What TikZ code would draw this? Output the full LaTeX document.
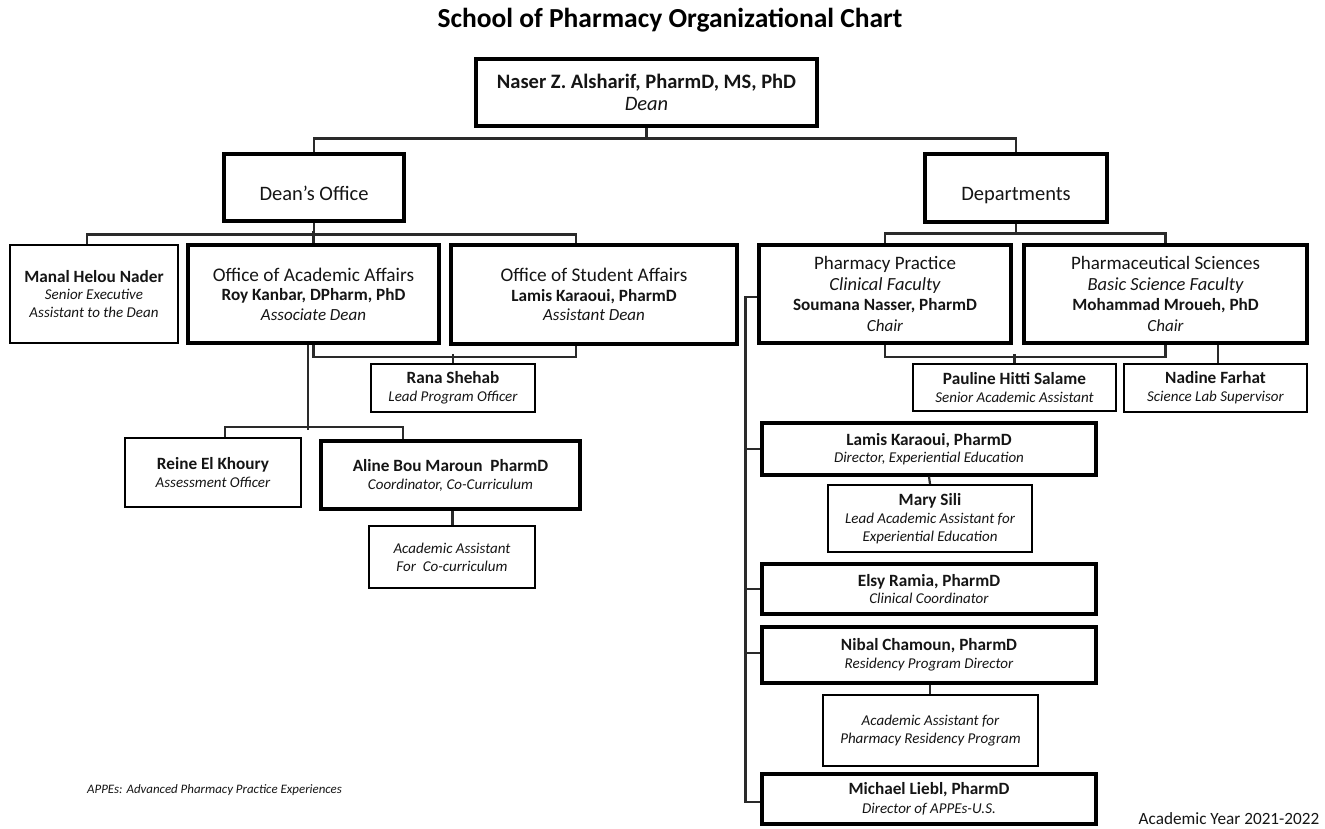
\documentclass[tikz,border=0pt]{standalone}
\usepackage{fontspec}
\setmainfont{Carlito}
\definecolor{txt}{HTML}{151515}
\definecolor{lnc}{HTML}{2A2A2A}
\newcommand\nB[1]{{\fontsize{17.2}{17.2}\selectfont\bfseries #1}}
\newcommand\nR[1]{{\fontsize{19.3}{19.3}\selectfont #1}}
\newcommand\nRs[1]{{\fontsize{19}{19}\selectfont #1}}
\newcommand\nI[1]{{\fontsize{15}{15}\selectfont\itshape #1}}
\newcommand\nIL[1]{{\fontsize{17}{17}\selectfont\itshape #1}}
\newcommand\nIM[1]{{\fontsize{18.5}{18.5}\selectfont\itshape #1}}
\newcommand\lowtxt[1]{\raisebox{-13pt}[0pt][0pt]{#1}}
\tikzset{
  bx/.style={draw=black, rectangle, align=center, inner sep=0pt, text=txt},
  thk/.style={bx, line width=3.2pt},
  thn/.style={bx, line width=2.1pt},
  sz/.style 2 args={minimum width=#1pt, minimum height=#2pt},
  conn/.style={draw=lnc, line width=2.2pt},
  lead/.style={font=\fontsize{13}{#1}\selectfont},
}
\begin{document}
\begin{tikzpicture}[x=1pt,y=-1pt]
\fill[white] (0,0) rectangle (1325,829);
\useasboundingbox (0,0) rectangle (1325,829);

\node[text=black, font=\fontsize{27.5}{27.5}\selectfont\bfseries] (title) at (670,20) {School of Pharmacy Organizational Chart};

% top levels
\node[thk, sz={341}{67}, font=\fontsize{20.5}{22}\selectfont] (dean) at (646.5,92.5)
  {\textbf{Naser Z. Alsharif, PharmD, MS, PhD}\\\textit{Dean}};
\node[thk, sz={180}{67}, font=\fontsize{20.5}{22}\selectfont] (doff) at (314,187.5) {\lowtxt{Dean’s Office}};
\node[thk, sz={182}{68}, font=\fontsize{20.5}{22}\selectfont] (dept) at (1016,188) {\lowtxt{Departments}};

% dean's office branch
\node[thn, sz={168}{98}, lead=17.5] (manal) at (94,294)
  {\nB{Manal Helou Nader}\\\nI{Senior Executive}\\\nI{Assistant to the Dean}};
\node[thk, sz={251}{98}, lead=19.5] (aa) at (313.5,294)
  {\nR{Office of Academic Affairs}\\\nB{Roy Kanbar, DPharm, PhD}\\\nIL{Associate Dean}};
\node[thk, sz={286}{99}, lead=19.5] (sa) at (594,294.5)
  {\nR{Office of Student Affairs}\\\nB{Lamis Karaoui, PharmD}\\\nIL{Assistant Dean}};
\node[thn, sz={164}{48}, lead=18] (rana) at (453,388)
  {\nB{Rana Shehab}\\\nI{Lead Program Officer}};
\node[thn, sz={176}{69}, lead=18] (reine) at (213,472.5)
  {\nB{Reine El Khoury}\\\nI{Assessment Officer}};
\node[thk, sz={259}{68}, lead=18] (aline) at (450.5,475)
  {\nB{Aline Bou Maroun\ \ PharmD}\\\nI{Coordinator, Co-Curriculum}};
\node[thn, sz={166}{62}, lead=18] (acco) at (452,557)
  {\nI{Academic Assistant}\\\nI{For\ \ Co-curriculum}};

% departments branch
\node[thk, sz={252}{98}, lead=20.5] (pp) at (885,294)
  {\nRs{Pharmacy Practice}\\\nIM{Clinical Faculty}\\\nB{Soumana Nasser, PharmD}\\\nIL{Chair}};
\node[thk, sz={283}{98}, lead=20.5] (ps) at (1165.5,294)
  {\nRs{Pharmaceutical Sciences}\\\nIM{Basic Science Faculty}\\\nB{Mohammad Mroueh, PhD}\\\nIL{Chair}};
\node[thn, sz={203}{47}, lead=18] (pauline) at (1014.5,387.5)
  {\nB{Pauline Hitti Salame}\\\nI{Senior Academic Assistant}};
\node[thn, sz={183}{48}, lead=18] (nadine) at (1215.5,388)
  {\nB{Nadine Farhat}\\\nI{Science Lab Supervisor}};
\node[thk, sz={334}{52}, lead=17.5] (lamis) at (929,449)
  {\nB{Lamis Karaoui, PharmD}\\\nI{Director, Experiential Education}};
\node[thn, sz={204}{67}, lead=18] (mary) at (930,518.5)
  {\nB{Mary Sili}\\\nI{Lead Academic Assistant for}\\\nI{Experiential Education}};
\node[thk, sz={334}{50}, lead=17.5] (elsy) at (929,589)
  {\nB{Elsy Ramia, PharmD}\\\nI{Clinical Coordinator}};
\node[thk, sz={334}{56}, lead=18] (nibal) at (929,655)
  {\nB{Nibal Chamoun, PharmD}\\\nI{Residency Program Director}};
\node[thn, sz={215}{71}, lead=17.5] (accr) at (930.5,730.5)
  {\nI{Academic Assistant for}\\\nI{Pharmacy Residency Program}};
\node[thk, sz={334}{50}, lead=18.5] (michael) at (929,799)
  {\nB{Michael Liebl, PharmD}\\\nI{Director of APPEs-U.S.}};

% footnotes
\node[text=txt, font=\fontsize{12.9}{12.9}\selectfont\itshape] (note) at (214.5,790)
  {APPEs: Advanced Pharmacy Practice Experiences};
\node[text=txt, font=\fontsize{17.2}{17.2}\selectfont, anchor=base, inner sep=0pt] (year) at (1229,824)
  {Academic Year 2021-2022};

% connectors: top
\draw[conn] (dean.south) -- ++(0,11);
\draw[conn] (doff.north) |- ([yshift=-11pt]dean.south) -| (dept.north);

% dean's office level
\draw[conn] (doff.south) -- ++(0,12);
\draw[conn] ([xshift=-7pt]manal.north) |- ([yshift=-12pt]doff.south) -| ([xshift=-18pt]sa.north);
\draw[conn] (aa.north) -- ++(0,-12);
\draw[conn] (aa.south) -- ++(0,12) -| ([xshift=-18pt]sa.south);
\draw[conn] (rana.north) -- ++(0,-9);
\draw[conn] ([xshift=-5.5pt]aa.south) -- ++(0,85);
\draw[conn] ([xshift=12pt]reine.north) -- ++(0,-10) -| ([xshift=-47.5pt]aline.north);
\draw[conn] ([xshift=2pt]aline.south) -- ([xshift=2pt]aline.south |- acco.north);

% departments level
\draw[conn] (dept.south) -- ++(0,10);
\draw[conn] (pp.north) |- ([yshift=-10pt]dept.south) -| (ps.north);
\draw[conn] (pp.south) -- ++(0,12) -| (ps.south);
\draw[conn] (pauline.north) -- ++(0,-9);
\draw[conn] ([xshift=2.5pt]nadine.north) -- ([xshift=2.5pt]nadine.north |- ps.south);
\draw[conn] ([yshift=-3pt]pp.west) -- ++(-12,0) |- ([yshift=-3pt]michael.west);
\draw[conn] (lamis.west) -- ++(-15,0);
\draw[conn] (elsy.west) -- ++(-15,0);
\draw[conn] ([yshift=2pt]nibal.west) -- ++(-15,0);
\draw[conn] (lamis.south) -- (mary.north);
\draw[conn] ([xshift=1pt]nibal.south) -- ([xshift=1pt]nibal.south |- accr.north);
\end{tikzpicture}
\end{document}
